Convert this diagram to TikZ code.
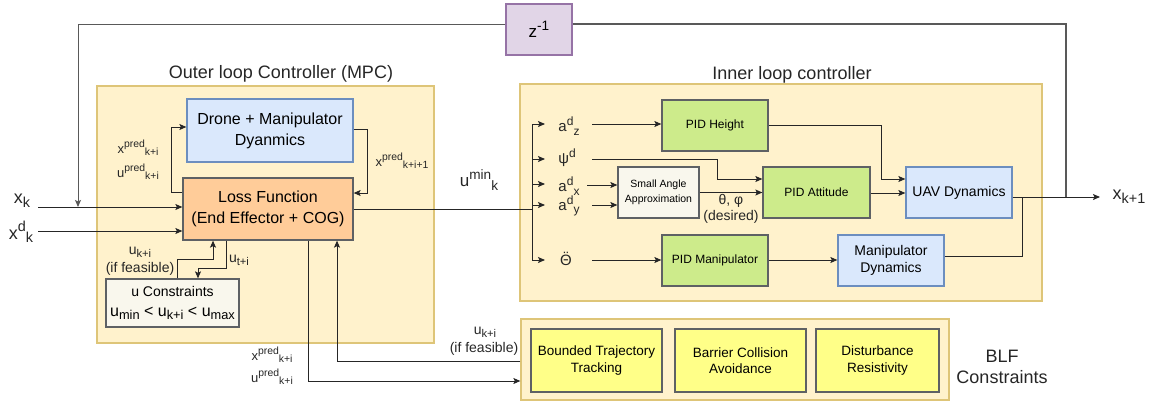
\documentclass[tikz,border=0pt]{standalone}
\usepackage{fontspec}
\setmainfont{Liberation Sans}
\usetikzlibrary{arrows.meta}
\definecolor{ybg}{HTML}{FFF2CC}
\definecolor{ybd}{HTML}{D6B656}
\definecolor{bbg}{HTML}{DAE8FC}
\definecolor{bbd}{HTML}{6C8EBF}
\definecolor{obg}{HTML}{FFCC99}
\definecolor{gbg}{HTML}{CDEB8B}
\definecolor{dbd}{HTML}{36393D}
\definecolor{wbg}{HTML}{F9F7ED}
\definecolor{lbg}{HTML}{FFFF88}
\definecolor{pbg}{HTML}{E1D5E7}
\definecolor{pbd}{HTML}{9673A6}
\newcommand{\fs}[1]{\fontsize{#1pt}{\fpeval{#1*1.2}pt}\selectfont}
\makeatletter
\newcommand{\sps}[1]{\raisebox{0.42em}{\fontsize{\fpeval{0.8*\f@size}pt}{1em}\selectfont #1}}
\newcommand{\sbs}[1]{\raisebox{-0.22em}{\fontsize{\fpeval{0.8*\f@size}pt}{1em}\selectfont #1}}
\makeatother
\newcommand{\Thdd}{\accent"00A8 Θ}
\tikzset{
  base box/.style={draw, line width=1.3pt, inner sep=0pt, align=center},
  group/.style={base box, fill=ybg, draw=ybd!80},
  bluebox/.style={base box, fill=bbg, draw=bbd},
  orangebox/.style={base box, fill=obg, draw=dbd!80},
  greenbox/.style={base box, fill=gbg, draw=dbd!80},
  whitebox/.style={base box, fill=wbg, draw=dbd!80},
  yellowbox/.style={base box, fill=lbg, draw=dbd!80},
  purplebox/.style={base box, fill=pbg, draw=pbd},
  wire/.style={line width=1pt, draw=black!85},
  arr/.style={wire, -{Stealth[length=7pt,width=6pt,inset=1.5pt]}},
  lab/.style={inner sep=0pt, align=center, text=black!85},
}
\begin{document}
\begin{tikzpicture}[x=1pt,y=-1pt]
\useasboundingbox (0,0) rectangle (1152,402);
% groups
\node[group, minimum width=337pt, minimum height=257pt] (outer) at (265.5,214.5) {};
\node[group, minimum width=522pt, minimum height=217pt] (inner) at (781,192.5) {};
\node[group, minimum width=428pt, minimum height=81pt] (blf) at (735,359.5) {};
\node[lab, font=\fs{18}] (outert) at (281,74) {Outer loop Controller (MPC)};
\node[lab, font=\fs{18}] (innert) at (792,75) {Inner loop controller};
\node[lab, font=\fs{18}] (blft) at (1002,367) {BLF\\Constraints};
% boxes
\node[purplebox, minimum width=66pt, minimum height=51pt, font=\fs{17}] (z) at (539,29.5) {z\sps{-1}};
\node[bluebox, minimum width=166pt, minimum height=63pt, font=\fs{16}] (drone) at (270,130.5) {Drone + Manipulator\\[2pt]Dyanmics};
\node[orangebox, minimum width=170pt, minimum height=62pt, font=\fs{16}] (loss) at (268,209) {Loss Function\\[2pt](End Effector + COG)};
\node[whitebox, minimum width=133pt, minimum height=48pt, font=\fs{14}] (ucons) at (172.5,303) {u Constraints\\[3pt]\fs{16}u\sbs{min} < u\sbs{k+i} < u\sbs{max}};
\node[greenbox, minimum width=106pt, minimum height=51pt, font=\fs{12}] (pidh) at (715,125.5) {PID Height};
\node[whitebox, minimum width=81pt, minimum height=51pt, font=\fs{10.5}] (sa) at (658.5,192.5) {Small Angle\\[2pt]Approximation};
\node[greenbox, minimum width=107pt, minimum height=51pt, font=\fs{12}] (pida) at (816.5,192.5) {PID Attitude};
\node[bluebox, minimum width=106pt, minimum height=51pt, font=\fs{14}] (uav) at (959,192.5) {UAV Dynamics};
\node[greenbox, minimum width=106pt, minimum height=51pt, font=\fs{12}] (pidm) at (715,260.5) {PID Manipulator};
\node[bluebox, minimum width=106pt, minimum height=51pt, font=\fs{14}] (mand) at (891,260.5) {Manipulator\\Dynamics};
\node[yellowbox, minimum width=131pt, minimum height=63pt, font=\fs{13.5}] (bt) at (596.5,360.5) {Bounded Trajectory\\Tracking};
\node[yellowbox, minimum width=131pt, minimum height=63pt, font=\fs{13.5}] (bc) at (740.5,360.5) {Barrier Collision\\Avoidance};
\node[yellowbox, minimum width=123pt, minimum height=63pt, font=\fs{13.5}] (dr) at (877.5,360.5) {Disturbance\\Resistivity};
% free labels
\node[lab, font=\fs{18}] (xk) at (22,201) {x\sbs{k}};
\node[lab, font=\fs{18}] (xdk) at (21,232) {x\sps{d}\sbs{k}};
\node[lab, font=\fs{17}] (umin) at (479,180) {u\sps{min}\sbs{k}};
\node[lab, font=\fs{18}] (xk1) at (1129,197) {x\sbs{k+1}};
\node[lab, font=\fs{13}] (xp1) at (138,148) {x\sps{pred}\sbs{k+i}};
\node[lab, font=\fs{13}] (up1) at (138,172) {u\sps{pred}\sbs{k+i}};
\node[lab, font=\fs{13}] (xp2) at (402,161) {x\sps{pred}\sbs{k+i+1}};
\node[lab, font=\fs{14}] (uk1) at (140,252) {u\sbs{k+i}};
\node[lab, font=\fs{14}] (iff1) at (140,269) {(if feasible)};
\node[lab, font=\fs{14}] (ut) at (239,260) {u\sbs{t+i}};
\node[lab, font=\fs{13}] (xp3) at (272,355) {x\sps{pred}\sbs{k+i}};
\node[lab, font=\fs{13}] (up3) at (272,377) {u\sps{pred}\sbs{k+i}};
\node[lab, font=\fs{14}] (uk2) at (485,332) {u\sbs{k+i}};
\node[lab, font=\fs{14}] (iff2) at (484,349) {(if feasible)};
\node[lab, font=\fs{15}] (adz) at (569,126) {a\sps{d}\sbs{z}};
\node[lab, font=\fs{15}] (psid) at (567,158) {ψ\sps{d}};
\node[lab, font=\fs{15}] (adx) at (569,186) {a\sps{d}\sbs{x}};
\node[lab, font=\fs{15}] (ady) at (569,206) {a\sps{d}\sbs{y}};
\node[lab, font=\fs{15}] (thdd) at (566,259) {\Thdd};
\node[lab, font=\fs{14}] (thphi) at (731,201) {θ, φ};
\node[lab, font=\fs{14}] (des) at (731,217) {(desired)};
% coordinates
\coordinate (top) at (0,24);
\coordinate (fbL) at (78,207);
\coordinate (fbR) at (1066,197);
\coordinate (xkS) at (38,207);
\coordinate (xdkS) at (38,231);
\coordinate (bus) at (532,209);
\coordinate (busT) at (532,124);
\coordinate (busB) at (532,260);
\coordinate (outE) at (1100,197);
% feedback
\draw[wire, line width=1.3pt, draw=black!65] (fbR) |- (z.east |- top);
\draw[arr, draw=black!65] (z.west |- top) -| (fbL);
% inputs
\draw[arr] (xkS) -- (loss.west |- xkS);
\draw[arr] (xdkS) -- (loss.west |- xdkS);
% drone loop
\draw[arr] (loss.west |- 0,192) -- (171,192) -- (171,127) -- (drone.west |- 0,127);
\draw[arr] (drone.east |- 0,129) -- (367,129) -- (367,193) -- (loss.east |- 0,193);
% constraints loop
\draw[arr] (ucons.north -| 177,0) -- (177,259) -- (213,259) -- (loss.south -| 213,0);
\draw[arr] (loss.south -| 226,0) -- (226,268) -- (198,268) -- (ucons.north -| 198,0);
% BLF loop
\draw[arr] (loss.south -| 308,0) -- (308,381) -- (blf.west |- 0,381);
\draw[arr] (blf.west |- 0,361) -- (337,361) -- (loss.south -| 337,0);
% u min bus
\draw[wire] (loss.east |- bus) -- (bus);
\draw[wire] (busT) -- (busB);
\foreach \yy in {124,159,184,205,260} \draw[arr] (532,\yy) -- (545,\yy);
% inner connections
\draw[arr] (592,124) -- (pidh.west |- 0,124);
\draw[arr] (592,159) -- (717,159) -- (717,179) -- (pida.west |- 0,179);
\draw[arr] (587,185) -- (sa.west |- 0,185);
\draw[arr] (592,205) -- (sa.west |- 0,205);
\draw[arr] (sa.east |- 0,192.5) -- (pida.west |- 0,192.5);
\draw[arr] (pidh.east |- 0,125) -- (881,125) -- (881,179) -- (uav.west |- 0,179);
\draw[arr] (pida.east |- 0,193) -- (uav.west |- 0,193);
\draw[arr] (592,260) -- (pidm.west |- 0,260);
\draw[arr] (pidm.east |- 0,260) -- (mand.west |- 0,260);
\draw[wire] (mand.east |- 0,256) -- (1022,256) -- (1022,197);
\draw[arr] (uav.east |- 0,197) -- (outE);
\end{tikzpicture}
\end{document}
